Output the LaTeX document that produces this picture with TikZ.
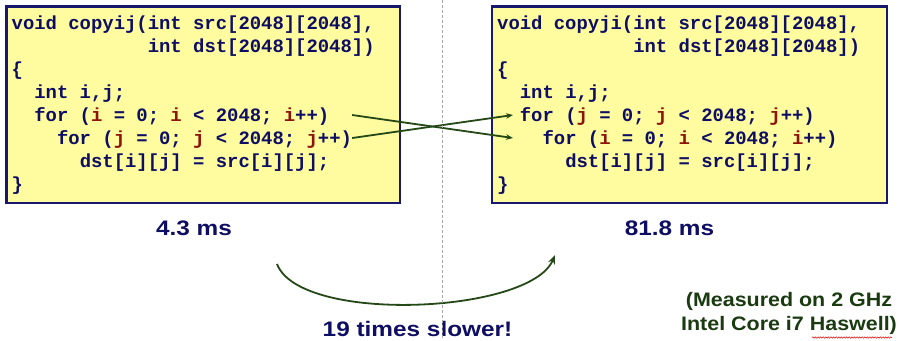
\documentclass[tikz,border=0pt]{standalone}
\usepackage{fontspec}
\usetikzlibrary{arrows.meta,calc,decorations.pathmorphing}

\newfontfamily\codefont{Liberation Mono}
\newfontfamily\labelfont[FakeStretch=1.16]{Liberation Sans}
\newfontfamily\notefont[FakeStretch=1.1]{Liberation Sans}

\definecolor{navy}{RGB}{14,14,98}
\definecolor{boxedge}{RGB}{24,24,110}
\definecolor{boxfill}{RGB}{255,252,160}
\definecolor{varred}{RGB}{140,20,10}
\definecolor{arrowgreen}{RGB}{36,72,22}
\definecolor{notegreen}{RGB}{26,58,16}

\newcommand\cvar[1]{\textcolor{varred}{#1}}

\begin{document}
\begin{tikzpicture}[x=1bp,y=-1bp,
  codebox/.style={draw=boxedge, line width=2.4bp, fill=boxfill, inner sep=0pt},
  codeline/.style={anchor=base west, inner sep=0pt, text=navy,
    font=\codefont\bfseries\fontsize{18.9bp}{23bp}\selectfont},
  timing/.style={anchor=base, inner sep=0pt, text=navy,
    font=\labelfont\bfseries\fontsize{21bp}{25bp}\selectfont},
  noteline/.style={anchor=base, inner sep=0pt, text=notegreen,
    font=\notefont\bfseries\fontsize{19.5bp}{23.5bp}\selectfont},
  swap/.style={draw=arrowgreen, line width=1.8bp,
    -{Stealth[length=7bp,width=5.5bp]}},
  slower/.style={draw=arrowgreen, line width=1.8bp,
    -{Stealth[length=9bp,width=7bp]}}]

\useasboundingbox (0,0) rectangle (899,340);

% the two code boxes
\node[codebox, minimum width=393.5bp, minimum height=196.5bp] (leftbox) at (203.25,104.75) {};
\node[codebox, minimum width=394.7bp, minimum height=196.5bp] (rightbox) at (689.35,104.75) {};

% row-major loop nest
\node[codeline] (L1) at (11.5,29.5)  {void copyij(int src[2048][2048],};
\node[codeline] (L2) at (11.5,52.5)  {\phantom{000000000000}int dst[2048][2048])};
\node[codeline] (L3) at (11.5,75.5)  {\{};
\node[codeline] (L4) at (11.5,98.5)  {\phantom{00}int i,j;};
\node[codeline] (L5) at (11.5,121.5) {\phantom{00}for (\cvar{i} = 0; \cvar{i} < 2048; \cvar{i}++)};
\node[codeline] (L6) at (11.5,144.5) {\phantom{0000}for (\cvar{j} = 0; \cvar{j} < 2048; \cvar{j}++)};
\node[codeline] (L7) at (11.5,167.5) {\phantom{000000}dst[i][j] = src[i][j];};
\node[codeline] (L8) at (11.5,190.5) {\}};

% column-major loop nest
\node[codeline] (R1) at (497,29.5)  {void copyji(int src[2048][2048],};
\node[codeline] (R2) at (497,52.5)  {\phantom{000000000000}int dst[2048][2048])};
\node[codeline] (R3) at (497,75.5)  {\{};
\node[codeline] (R4) at (497,98.5)  {\phantom{00}int i,j;};
\node[codeline] (R5) at (497,121.5) {\phantom{00}for (\cvar{j} = 0; \cvar{j} < 2048; \cvar{j}++)};
\node[codeline] (R6) at (497,144.5) {\phantom{0000}for (\cvar{i} = 0; \cvar{i} < 2048; \cvar{i}++)};
\node[codeline] (R7) at (497,167.5) {\phantom{000000}dst[i][j] = src[i][j];};
\node[codeline] (R8) at (497,190.5) {\}};

% loop ends: outer/inner loops swap places
\coordinate (outerI) at ($(L6.base east |- L5.base)+(0,-6.5)$);
\coordinate (innerJ) at ($(L6.base east)+(0,-6.5)$);
\coordinate (outerJ) at ($(R5.base west)+(16,-6.5)$);
\coordinate (innerI) at ($(R6.base west)+(16,-6.5)$);
\draw[swap] (outerI) -- (innerI);
\draw[swap] (innerJ) -- (outerJ);

% timings
\node[timing] (tij) at (194,235) {4.3 ms};
\node[timing] (tji) at (669.5,235) {81.8 ms};

% slowdown arc
\coordinate (arcStart) at (277,264);
\coordinate (arcEnd) at (555,255);
\draw[slower] (arcStart) .. controls (300,324) and (530,314) .. (arcEnd);
\node[timing] (slow) at (417.5,336.5) {19 times slower!};

% measurement note
\node[noteline] (note1) at (789,306.7) {(Measured on 2 GHz};
\node[noteline] (note2) at (789,330.2) {Intel Core i7 Haswell)};
\draw[red!85!black, line width=0.5bp, decorate,
  decoration={snake, amplitude=0.7bp, segment length=2.6bp}]
  (812,337.5) -- (892,337.5);

% centre divider
\draw[gray!70, line width=0.6bp, dash pattern=on 3bp off 2bp] (442,0) -- (442,340);

\end{tikzpicture}
\end{document}
